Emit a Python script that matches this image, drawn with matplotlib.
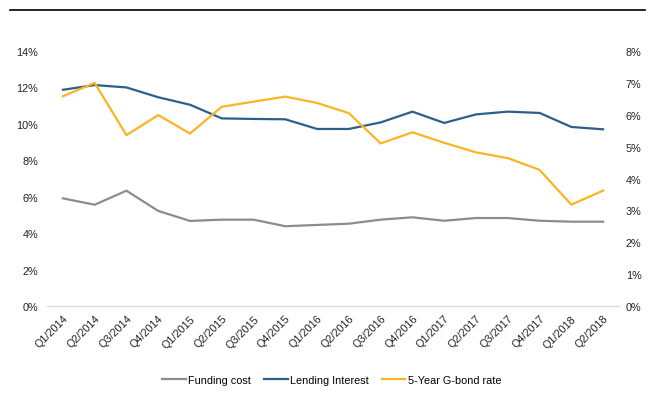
import numpy as np
import matplotlib.pyplot as plt
from matplotlib.ticker import FuncFormatter

plt.rcParams['font.family'] = ['Liberation Sans', 'DejaVu Sans']

quarters = ['Q1/2014', 'Q2/2014', 'Q3/2014', 'Q4/2014', 'Q1/2015', 'Q2/2015',
            'Q3/2015', 'Q4/2015', 'Q1/2016', 'Q2/2016', 'Q3/2016', 'Q4/2016',
            'Q1/2017', 'Q2/2017', 'Q3/2017', 'Q4/2017', 'Q1/2018', 'Q2/2018']
funding_cost = [5.91, 5.56, 6.33, 5.22, 4.67, 4.74, 4.74, 4.38, 4.45, 4.52,
                4.74, 4.87, 4.68, 4.83, 4.83, 4.68, 4.63, 4.63]
lending_interest = [11.87, 12.13, 12.0, 11.46, 11.05, 10.30, 10.27, 10.25, 9.72, 9.72,
                    10.08, 10.67, 10.05, 10.52, 10.67, 10.60, 9.83, 9.70]
gbond_5y = [6.58, 7.0, 5.36, 5.99, 5.41, 6.25, 6.41, 6.57, 6.37, 6.05,
            5.10, 5.45, 5.12, 4.82, 4.64, 4.27, 3.18, 3.62]

fig = plt.figure(figsize=(6.5, 4.06), dpi=100)
ax = fig.add_axes([47/650, 99/406, 572/650, 255/406])
ax2 = ax.twinx()

x = np.arange(len(quarters))
l1, = ax.plot(x, funding_cost, color='#8c8c8c', lw=1.6, label='Funding cost')
l2, = ax.plot(x, lending_interest, color='#2e5f8a', lw=1.6, label='Lending Interest')
l3, = ax2.plot(x, gbond_5y, color='#fbb423', lw=1.6, label='5-Year G-bond rate')

ax.set_xlim(-0.5, len(quarters) - 0.5)
ax.set_ylim(0, 14)
ax2.set_ylim(0, 8)
ax.set_yticks(np.arange(0, 15, 2))
ax2.set_yticks(np.arange(0, 9, 1))
pct = FuncFormatter(lambda v, p: '%d%%' % v)
ax.yaxis.set_major_formatter(pct)
ax2.yaxis.set_major_formatter(pct)
ax.set_xticks(x)
ax.set_xticklabels(quarters, rotation=45, ha='right', rotation_mode='anchor')

for a in (ax, ax2):
    for s in ['top', 'left', 'right']:
        a.spines[s].set_visible(False)
    a.spines['bottom'].set_color('#d9d9d9')
    a.tick_params(length=0, labelsize=7.8, colors='#222222')
ax.tick_params(axis='y', pad=6.5)
ax2.tick_params(axis='y', pad=5)
ax.tick_params(axis='x', pad=5)

fig.legend(handles=[l1, l2, l3], loc='center', bbox_to_anchor=(0.51, 0.062),
           ncol=3, frameon=False, fontsize=7.8, handlelength=2.2,
           handletextpad=0.2, columnspacing=1.2)

fig.add_artist(plt.Line2D([10/650, 645/650], [1 - 11/406, 1 - 11/406],
                          color='black', lw=1.2))

fig.savefig('out.png', dpi=100)
